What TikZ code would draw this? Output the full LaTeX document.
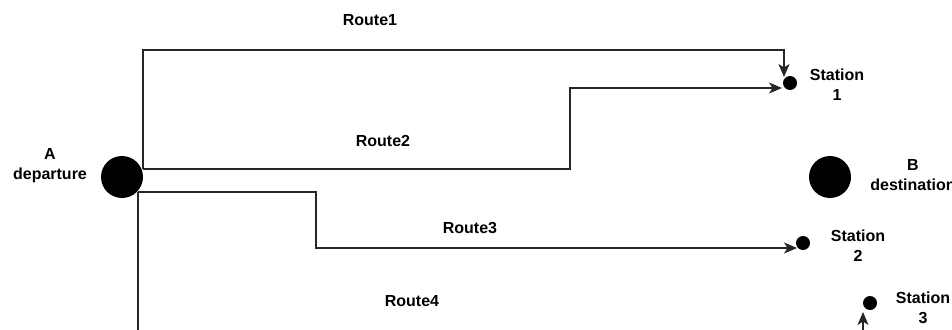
\documentclass[tikz,border=0pt]{standalone}
\usepackage{fontspec}
\setmainfont{Liberation Sans}
\usetikzlibrary{arrows.meta}
\tikzset{
  bigdot/.style={circle, fill=black, draw=none, minimum size=42pt, inner sep=0pt},
  stationdot/.style={circle, fill=black, draw=none, minimum size=14pt, inner sep=0pt},
  lbl/.style={font=\fontsize{16}{20}\selectfont\bfseries, align=center, inner sep=0pt},
  route/.style={line width=1.3pt, draw=black!85},
  tip/.style={-{Stealth[length=13pt,width=11pt,inset=3.5pt]}},
}
\begin{document}
\begin{tikzpicture}[x=1pt, y=-1pt]
  \useasboundingbox (0,0) rectangle (952,329);
  \clip (0,0) rectangle (952,329);

  % end points
  \node[bigdot] (A) at (122,177) {};
  \node[bigdot] (B) at (830,177) {};
  \node[stationdot] (S1) at (790,83) {};
  \node[stationdot] (S2) at (803,243) {};
  \node[stationdot] (S3) at (870,303) {};

  % labels
  \node[lbl] (Alab) at (50,166) {A\\departure};
  \node[lbl] (Blab) at (913,175) {B\\destination};
  \node[lbl] (S1lab) at (837,85) {Station\\1};
  \node[lbl] (S2lab) at (858,246) {Station\\2};
  \node[lbl] (S3lab) at (923,308) {Station\\3};
  \node[lbl] (R1) at (370,20) {Route1};
  \node[lbl] (R2) at (383,141) {Route2};
  \node[lbl] (R3) at (470,228) {Route3};
  \node[lbl] (R4) at (412,301) {Route4};

  % exits from the departure point and entries at the stations
  \coordinate (Aup) at (143,169);
  \coordinate (Adown) at (138,192);
  \coordinate (S1top) at (784,77);
  \coordinate (S1left) at (782,88);
  \coordinate (S2left) at (797,248);
  \coordinate (S3bot) at (863,312);
  \coordinate (R4end) at (138,340);
  \coordinate (S3feed) at (863,340);

  % routes
  \draw[route, tip] (Aup) |- (784,50) -- (S1top);
  \draw[route, tip] (Aup) -- (570,169) |- (S1left);
  \draw[route, tip] (Adown) -- (316,192) |- (S2left);
  \draw[route] (Adown) -- (R4end);
  \draw[route, tip] (S3feed) -- (S3bot);
\end{tikzpicture}
\end{document}
